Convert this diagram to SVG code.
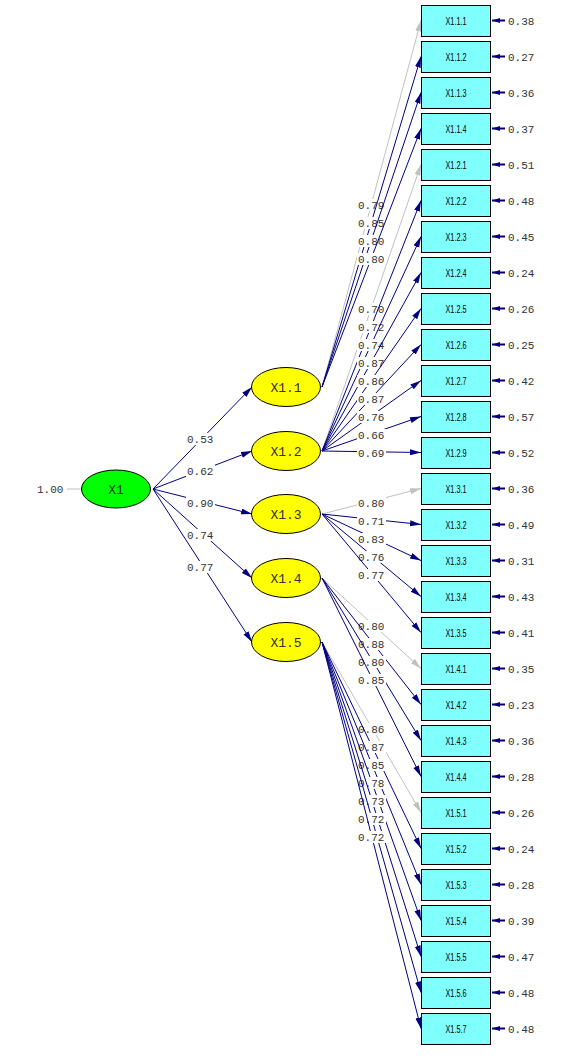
<svg xmlns="http://www.w3.org/2000/svg" width="561" height="1059" viewBox="0 0 561 1059">
<style>
.box{fill:#80FFFF;stroke:#000;stroke-width:1}
.bt{font-family:"Liberation Sans",Arial,sans-serif;font-size:10px;fill:#000;text-anchor:middle}
.lat{fill:#FFFF00;stroke:#000;stroke-width:1}
.lt{font-family:"Liberation Mono","Courier New",monospace;font-size:13px;fill:#333;text-anchor:middle}
.p{stroke:#000080;stroke-width:1;fill:none;marker-end:url(#an)}
.g{stroke:#C0C0C0;stroke-width:1;fill:none;marker-end:url(#ag)}
.e{stroke:#000080;stroke-width:2;fill:none;marker-end:url(#ae)}
.lb{fill:#fff}
.n{font-family:"Liberation Mono","Courier New",monospace;font-size:11px;fill:#333}
</style>
<defs>
<marker id="an" markerUnits="userSpaceOnUse" markerWidth="12" markerHeight="7" refX="11" refY="3" orient="auto"><path d="M0,0 L11,3 L0,6 z" fill="#000080"/></marker>
<marker id="ag" markerUnits="userSpaceOnUse" markerWidth="12" markerHeight="7" refX="11" refY="3" orient="auto"><path d="M0,0 L11,3 L0,6 z" fill="#C0C0C0"/></marker>
<marker id="ae" markerUnits="userSpaceOnUse" markerWidth="9" markerHeight="6" refX="8" refY="2.5" orient="auto"><path d="M0,0 L8,2.5 L0,5 z" fill="#000080"/></marker>
</defs>
<rect width="561" height="1059" fill="#fff"/>
<g id="connectors">
<line x1="67" y1="489" x2="81" y2="489" stroke="#C0C0C0"/>
<text class="n" x="37" y="493">1.00</text>
<line class="p" x1="153" y1="489" x2="252" y2="387"/><rect class="lb" x="186" y="433" width="29" height="12"/><text class="n" x="187" y="443">0.53</text>
<line class="p" x1="153" y1="489" x2="252" y2="451"/><rect class="lb" x="186" y="465" width="29" height="12"/><text class="n" x="187" y="475">0.62</text>
<line class="p" x1="153" y1="489" x2="252" y2="514"/><rect class="lb" x="186" y="497" width="29" height="12"/><text class="n" x="187" y="507">0.90</text>
<line class="p" x1="153" y1="489" x2="252" y2="578"/><rect class="lb" x="186" y="529" width="29" height="12"/><text class="n" x="187" y="539">0.74</text>
<line class="p" x1="153" y1="489" x2="252" y2="642"/><rect class="lb" x="186" y="561" width="29" height="12"/><text class="n" x="187" y="571">0.77</text>

<line class="g" x1="322" y1="387" x2="421" y2="20.5"/><rect class="lb" x="357" y="199" width="29" height="12"/><text class="n" x="358" y="209">0.79</text>
<line class="p" x1="322" y1="387" x2="421" y2="56.5"/><rect class="lb" x="357" y="217" width="29" height="12"/><text class="n" x="358" y="227">0.85</text>
<line class="p" x1="322" y1="387" x2="421" y2="92.5"/><rect class="lb" x="357" y="235" width="29" height="12"/><text class="n" x="358" y="245">0.80</text>
<line class="p" x1="322" y1="387" x2="421" y2="128.5"/><rect class="lb" x="357" y="253" width="29" height="12"/><text class="n" x="358" y="263">0.80</text>

<line class="g" x1="322" y1="451" x2="421" y2="164.5"/><rect class="lb" x="357" y="303" width="29" height="12"/><text class="n" x="358" y="313">0.70</text>
<line class="p" x1="322" y1="451" x2="421" y2="200.5"/><rect class="lb" x="357" y="321" width="29" height="12"/><text class="n" x="358" y="331">0.72</text>
<line class="p" x1="322" y1="451" x2="421" y2="236.5"/><rect class="lb" x="357" y="339" width="29" height="12"/><text class="n" x="358" y="349">0.74</text>
<line class="p" x1="322" y1="451" x2="421" y2="272.5"/><rect class="lb" x="357" y="357" width="29" height="12"/><text class="n" x="358" y="367">0.87</text>
<line class="p" x1="322" y1="451" x2="421" y2="308.5"/><rect class="lb" x="357" y="375" width="29" height="12"/><text class="n" x="358" y="385">0.86</text>
<line class="p" x1="322" y1="451" x2="421" y2="344.5"/><rect class="lb" x="357" y="393" width="29" height="12"/><text class="n" x="358" y="403">0.87</text>
<line class="p" x1="322" y1="451" x2="421" y2="380.5"/><rect class="lb" x="357" y="411" width="29" height="12"/><text class="n" x="358" y="421">0.76</text>
<line class="p" x1="322" y1="451" x2="421" y2="416.5"/><rect class="lb" x="357" y="429" width="29" height="12"/><text class="n" x="358" y="439">0.66</text>
<line class="p" x1="322" y1="451" x2="421" y2="452.5"/><rect class="lb" x="357" y="447" width="29" height="12"/><text class="n" x="358" y="457">0.69</text>

<line class="g" x1="322" y1="514" x2="421" y2="488.5"/><rect class="lb" x="357" y="497" width="29" height="12"/><text class="n" x="358" y="507">0.80</text>
<line class="p" x1="322" y1="514" x2="421" y2="524.5"/><rect class="lb" x="357" y="515" width="29" height="12"/><text class="n" x="358" y="525">0.71</text>
<line class="p" x1="322" y1="514" x2="421" y2="560.5"/><rect class="lb" x="357" y="533" width="29" height="12"/><text class="n" x="358" y="543">0.83</text>
<line class="p" x1="322" y1="514" x2="421" y2="596.5"/><rect class="lb" x="357" y="551" width="29" height="12"/><text class="n" x="358" y="561">0.76</text>
<line class="p" x1="322" y1="514" x2="421" y2="632.5"/><rect class="lb" x="357" y="569" width="29" height="12"/><text class="n" x="358" y="579">0.77</text>

<line class="g" x1="322" y1="578" x2="421" y2="668.5"/><rect class="lb" x="357" y="620" width="29" height="12"/><text class="n" x="358" y="630">0.80</text>
<line class="p" x1="322" y1="578" x2="421" y2="704.5"/><rect class="lb" x="357" y="638" width="29" height="12"/><text class="n" x="358" y="648">0.88</text>
<line class="p" x1="322" y1="578" x2="421" y2="740.5"/><rect class="lb" x="357" y="656" width="29" height="12"/><text class="n" x="358" y="666">0.80</text>
<line class="p" x1="322" y1="578" x2="421" y2="776.5"/><rect class="lb" x="357" y="674" width="29" height="12"/><text class="n" x="358" y="684">0.85</text>

<line class="g" x1="322" y1="642" x2="421" y2="812.5"/><rect class="lb" x="357" y="723" width="29" height="12"/><text class="n" x="358" y="733">0.86</text>
<line class="p" x1="322" y1="642" x2="421" y2="848.5"/><rect class="lb" x="357" y="741" width="29" height="12"/><text class="n" x="358" y="751">0.87</text>
<line class="p" x1="322" y1="642" x2="421" y2="884.5"/><rect class="lb" x="357" y="759" width="29" height="12"/><text class="n" x="358" y="769">0.85</text>
<line class="p" x1="322" y1="642" x2="421" y2="920.5"/><rect class="lb" x="357" y="777" width="29" height="12"/><text class="n" x="358" y="787">0.78</text>
<line class="p" x1="322" y1="642" x2="421" y2="956.5"/><rect class="lb" x="357" y="795" width="29" height="12"/><text class="n" x="358" y="805">0.73</text>
<line class="p" x1="322" y1="642" x2="421" y2="992.5"/><rect class="lb" x="357" y="813" width="29" height="12"/><text class="n" x="358" y="823">0.72</text>
<line class="p" x1="322" y1="642" x2="421" y2="1028.5"/><rect class="lb" x="357" y="831" width="29" height="12"/><text class="n" x="358" y="841">0.72</text>

<line class="e" x1="505" y1="20.5" x2="492" y2="20.5"/><text class="n" x="508" y="24.5">0.38</text>
<line class="e" x1="505" y1="56.5" x2="492" y2="56.5"/><text class="n" x="508" y="60.5">0.27</text>
<line class="e" x1="505" y1="92.5" x2="492" y2="92.5"/><text class="n" x="508" y="96.5">0.36</text>
<line class="e" x1="505" y1="128.5" x2="492" y2="128.5"/><text class="n" x="508" y="132.5">0.37</text>
<line class="e" x1="505" y1="164.5" x2="492" y2="164.5"/><text class="n" x="508" y="168.5">0.51</text>
<line class="e" x1="505" y1="200.5" x2="492" y2="200.5"/><text class="n" x="508" y="204.5">0.48</text>
<line class="e" x1="505" y1="236.5" x2="492" y2="236.5"/><text class="n" x="508" y="240.5">0.45</text>
<line class="e" x1="505" y1="272.5" x2="492" y2="272.5"/><text class="n" x="508" y="276.5">0.24</text>
<line class="e" x1="505" y1="308.5" x2="492" y2="308.5"/><text class="n" x="508" y="312.5">0.26</text>
<line class="e" x1="505" y1="344.5" x2="492" y2="344.5"/><text class="n" x="508" y="348.5">0.25</text>
<line class="e" x1="505" y1="380.5" x2="492" y2="380.5"/><text class="n" x="508" y="384.5">0.42</text>
<line class="e" x1="505" y1="416.5" x2="492" y2="416.5"/><text class="n" x="508" y="420.5">0.57</text>
<line class="e" x1="505" y1="452.5" x2="492" y2="452.5"/><text class="n" x="508" y="456.5">0.52</text>
<line class="e" x1="505" y1="488.5" x2="492" y2="488.5"/><text class="n" x="508" y="492.5">0.36</text>
<line class="e" x1="505" y1="524.5" x2="492" y2="524.5"/><text class="n" x="508" y="528.5">0.49</text>
<line class="e" x1="505" y1="560.5" x2="492" y2="560.5"/><text class="n" x="508" y="564.5">0.31</text>
<line class="e" x1="505" y1="596.5" x2="492" y2="596.5"/><text class="n" x="508" y="600.5">0.43</text>
<line class="e" x1="505" y1="632.5" x2="492" y2="632.5"/><text class="n" x="508" y="636.5">0.41</text>
<line class="e" x1="505" y1="668.5" x2="492" y2="668.5"/><text class="n" x="508" y="672.5">0.35</text>
<line class="e" x1="505" y1="704.5" x2="492" y2="704.5"/><text class="n" x="508" y="708.5">0.23</text>
<line class="e" x1="505" y1="740.5" x2="492" y2="740.5"/><text class="n" x="508" y="744.5">0.36</text>
<line class="e" x1="505" y1="776.5" x2="492" y2="776.5"/><text class="n" x="508" y="780.5">0.28</text>
<line class="e" x1="505" y1="812.5" x2="492" y2="812.5"/><text class="n" x="508" y="816.5">0.26</text>
<line class="e" x1="505" y1="848.5" x2="492" y2="848.5"/><text class="n" x="508" y="852.5">0.24</text>
<line class="e" x1="505" y1="884.5" x2="492" y2="884.5"/><text class="n" x="508" y="888.5">0.28</text>
<line class="e" x1="505" y1="920.5" x2="492" y2="920.5"/><text class="n" x="508" y="924.5">0.39</text>
<line class="e" x1="505" y1="956.5" x2="492" y2="956.5"/><text class="n" x="508" y="960.5">0.47</text>
<line class="e" x1="505" y1="992.5" x2="492" y2="992.5"/><text class="n" x="508" y="996.5">0.48</text>
<line class="e" x1="505" y1="1028.5" x2="492" y2="1028.5"/><text class="n" x="508" y="1032.5">0.48</text>
</g>
<g id="X1"><ellipse cx="116" cy="489" rx="34.5" ry="19" fill="#00FF00" stroke="#000"/><text class="lt" x="116" y="493.5">X1</text></g>
<g id="X1.1"><ellipse class="lat" cx="286" cy="387" rx="34.5" ry="19.5"/><text class="lt" x="286" y="391.5">X1.1</text></g>
<g id="X1.2"><ellipse class="lat" cx="286" cy="451" rx="34.5" ry="19.5"/><text class="lt" x="286" y="455.5">X1.2</text></g>
<g id="X1.3"><ellipse class="lat" cx="286" cy="514" rx="34.5" ry="19.5"/><text class="lt" x="286" y="518.5">X1.3</text></g>
<g id="X1.4"><ellipse class="lat" cx="286" cy="578" rx="34.5" ry="19.5"/><text class="lt" x="286" y="582.5">X1.4</text></g>
<g id="X1.5"><ellipse class="lat" cx="286" cy="642" rx="34.5" ry="19.5"/><text class="lt" x="286" y="646.5">X1.5</text></g>
<g id="X1.1.1"><rect class="box" x="421.5" y="5.5" width="69" height="31"/><text class="bt" x="456" y="24.5" textLength="21" lengthAdjust="spacingAndGlyphs">X1.1.1</text></g>
<g id="X1.1.2"><rect class="box" x="421.5" y="41.5" width="69" height="31"/><text class="bt" x="456" y="60.5" textLength="21" lengthAdjust="spacingAndGlyphs">X1.1.2</text></g>
<g id="X1.1.3"><rect class="box" x="421.5" y="77.5" width="69" height="31"/><text class="bt" x="456" y="96.5" textLength="21" lengthAdjust="spacingAndGlyphs">X1.1.3</text></g>
<g id="X1.1.4"><rect class="box" x="421.5" y="113.5" width="69" height="31"/><text class="bt" x="456" y="132.5" textLength="21" lengthAdjust="spacingAndGlyphs">X1.1.4</text></g>
<g id="X1.2.1"><rect class="box" x="421.5" y="149.5" width="69" height="31"/><text class="bt" x="456" y="168.5" textLength="21" lengthAdjust="spacingAndGlyphs">X1.2.1</text></g>
<g id="X1.2.2"><rect class="box" x="421.5" y="185.5" width="69" height="31"/><text class="bt" x="456" y="204.5" textLength="21" lengthAdjust="spacingAndGlyphs">X1.2.2</text></g>
<g id="X1.2.3"><rect class="box" x="421.5" y="221.5" width="69" height="31"/><text class="bt" x="456" y="240.5" textLength="21" lengthAdjust="spacingAndGlyphs">X1.2.3</text></g>
<g id="X1.2.4"><rect class="box" x="421.5" y="257.5" width="69" height="31"/><text class="bt" x="456" y="276.5" textLength="21" lengthAdjust="spacingAndGlyphs">X1.2.4</text></g>
<g id="X1.2.5"><rect class="box" x="421.5" y="293.5" width="69" height="31"/><text class="bt" x="456" y="312.5" textLength="21" lengthAdjust="spacingAndGlyphs">X1.2.5</text></g>
<g id="X1.2.6"><rect class="box" x="421.5" y="329.5" width="69" height="31"/><text class="bt" x="456" y="348.5" textLength="21" lengthAdjust="spacingAndGlyphs">X1.2.6</text></g>
<g id="X1.2.7"><rect class="box" x="421.5" y="365.5" width="69" height="31"/><text class="bt" x="456" y="384.5" textLength="21" lengthAdjust="spacingAndGlyphs">X1.2.7</text></g>
<g id="X1.2.8"><rect class="box" x="421.5" y="401.5" width="69" height="31"/><text class="bt" x="456" y="420.5" textLength="21" lengthAdjust="spacingAndGlyphs">X1.2.8</text></g>
<g id="X1.2.9"><rect class="box" x="421.5" y="437.5" width="69" height="31"/><text class="bt" x="456" y="456.5" textLength="21" lengthAdjust="spacingAndGlyphs">X1.2.9</text></g>
<g id="X1.3.1"><rect class="box" x="421.5" y="473.5" width="69" height="31"/><text class="bt" x="456" y="492.5" textLength="21" lengthAdjust="spacingAndGlyphs">X1.3.1</text></g>
<g id="X1.3.2"><rect class="box" x="421.5" y="509.5" width="69" height="31"/><text class="bt" x="456" y="528.5" textLength="21" lengthAdjust="spacingAndGlyphs">X1.3.2</text></g>
<g id="X1.3.3"><rect class="box" x="421.5" y="545.5" width="69" height="31"/><text class="bt" x="456" y="564.5" textLength="21" lengthAdjust="spacingAndGlyphs">X1.3.3</text></g>
<g id="X1.3.4"><rect class="box" x="421.5" y="581.5" width="69" height="31"/><text class="bt" x="456" y="600.5" textLength="21" lengthAdjust="spacingAndGlyphs">X1.3.4</text></g>
<g id="X1.3.5"><rect class="box" x="421.5" y="617.5" width="69" height="31"/><text class="bt" x="456" y="636.5" textLength="21" lengthAdjust="spacingAndGlyphs">X1.3.5</text></g>
<g id="X1.4.1"><rect class="box" x="421.5" y="653.5" width="69" height="31"/><text class="bt" x="456" y="672.5" textLength="21" lengthAdjust="spacingAndGlyphs">X1.4.1</text></g>
<g id="X1.4.2"><rect class="box" x="421.5" y="689.5" width="69" height="31"/><text class="bt" x="456" y="708.5" textLength="21" lengthAdjust="spacingAndGlyphs">X1.4.2</text></g>
<g id="X1.4.3"><rect class="box" x="421.5" y="725.5" width="69" height="31"/><text class="bt" x="456" y="744.5" textLength="21" lengthAdjust="spacingAndGlyphs">X1.4.3</text></g>
<g id="X1.4.4"><rect class="box" x="421.5" y="761.5" width="69" height="31"/><text class="bt" x="456" y="780.5" textLength="21" lengthAdjust="spacingAndGlyphs">X1.4.4</text></g>
<g id="X1.5.1"><rect class="box" x="421.5" y="797.5" width="69" height="31"/><text class="bt" x="456" y="816.5" textLength="21" lengthAdjust="spacingAndGlyphs">X1.5.1</text></g>
<g id="X1.5.2"><rect class="box" x="421.5" y="833.5" width="69" height="31"/><text class="bt" x="456" y="852.5" textLength="21" lengthAdjust="spacingAndGlyphs">X1.5.2</text></g>
<g id="X1.5.3"><rect class="box" x="421.5" y="869.5" width="69" height="31"/><text class="bt" x="456" y="888.5" textLength="21" lengthAdjust="spacingAndGlyphs">X1.5.3</text></g>
<g id="X1.5.4"><rect class="box" x="421.5" y="905.5" width="69" height="31"/><text class="bt" x="456" y="924.5" textLength="21" lengthAdjust="spacingAndGlyphs">X1.5.4</text></g>
<g id="X1.5.5"><rect class="box" x="421.5" y="941.5" width="69" height="31"/><text class="bt" x="456" y="960.5" textLength="21" lengthAdjust="spacingAndGlyphs">X1.5.5</text></g>
<g id="X1.5.6"><rect class="box" x="421.5" y="977.5" width="69" height="31"/><text class="bt" x="456" y="996.5" textLength="21" lengthAdjust="spacingAndGlyphs">X1.5.6</text></g>
<g id="X1.5.7"><rect class="box" x="421.5" y="1013.5" width="69" height="31"/><text class="bt" x="456" y="1032.5" textLength="21" lengthAdjust="spacingAndGlyphs">X1.5.7</text></g>
</svg>
